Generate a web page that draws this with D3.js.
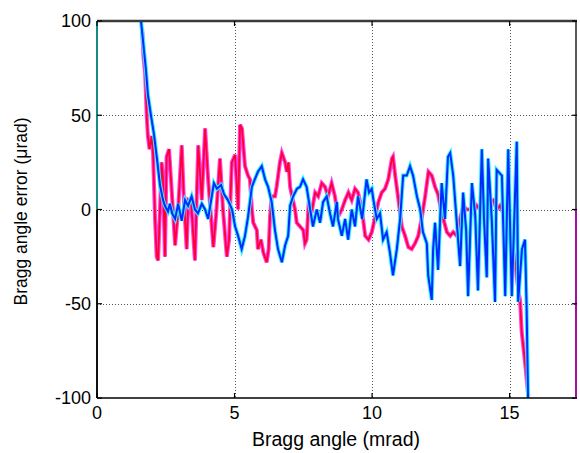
<!DOCTYPE html>
<html><head><meta charset="utf-8">
<script src="https://cdn.jsdelivr.net/npm/d3@7"></script>
<style>body{margin:0;background:#fff}svg{display:block}text{font-family:"Liberation Sans",Arial,sans-serif;fill:#000}</style>
</head><body><svg id="c" width="580" height="453"></svg>
<script>
const xTicks = [0, 5, 10, 15];
const yTicks = [-100, -50, 0, 50, 100];
const xLabel = "Bragg angle (mrad)";
const yLabel = "Bragg angle error (\u03bcrad)";

const blueX = [1.60,1.67,1.78,1.85,1.96,2.07,2.18,2.29,2.40,2.47,2.58,2.65,2.73,2.84,2.95,3.08,3.20,3.31,3.44,3.56,3.67,3.81,3.93,4.04,4.15,4.25,4.36,4.51,4.62,4.76,4.91,5.02,5.13,5.26,5.38,5.49,5.63,5.71,5.85,5.99,6.11,6.22,6.35,6.47,6.58,6.72,6.84,6.95,7.02,7.13,7.27,7.38,7.49,7.62,7.75,7.85,7.99,8.11,8.22,8.35,8.47,8.58,8.72,8.76,8.90,9.02,9.13,9.26,9.38,9.49,9.64,9.80,9.89,9.99,10.05,10.17,10.29,10.40,10.53,10.65,10.76,10.90,11.02,11.13,11.26,11.38,11.49,11.63,11.75,11.85,11.99,12.04,12.17,12.22,12.29,12.40,12.53,12.65,12.76,12.84,12.95,13.08,13.20,13.31,13.42,13.49,13.63,13.75,13.85,13.99,14.07,14.17,14.22,14.35,14.47,14.53,14.72,14.84,14.95,15.08,15.26,15.31,15.45,15.56,15.62,15.67];
const blueY = [100,90,74,61,50,40,27,13,5,2,-1,3,-2,-5,3,-6,5,2,7,0,-2,3,0,-5,5,14,11,13,8,5,0,-9,-14,-21,-14,-4,12,15,20,23,16,12,4,-11,-21,-28,-19,-14,2,7,11,12,16,12,0,-9,0,-7,4,7,-2,-9,4,-5,-14,-5,-16,0,-9,7,-5,16,9,11,5,-5,-2,-16,-12,-23,-35,-21,-5,18,18,23,18,7,0,-12,-18,-35,-48,-21,-7,-32,14,-5,28,30,18,-7,-30,9,-11,-46,14,-3,-43,32,-5,-36,27,-5,-49,21,18,-46,32,-46,36,-49,-21,-16,-53,-100];

const redX = [1.64,1.69,1.75,1.81,1.85,1.91,1.99,2.04,2.11,2.17,2.22,2.29,2.35,2.40,2.47,2.53,2.62,2.72,2.84,2.95,3.08,3.16,3.26,3.32,3.42,3.56,3.68,3.81,3.93,4.04,4.23,4.33,4.47,4.58,4.72,4.80,4.90,5.02,5.13,5.20,5.27,5.38,5.49,5.56,5.63,5.68,5.81,5.85,5.96,6.05,6.17,6.24,6.29,6.35,6.47,6.53,6.65,6.72,6.84,6.90,6.96,7.02,7.09,7.20,7.26,7.38,7.50,7.56,7.62,7.69,7.82,7.93,8.04,8.17,8.29,8.40,8.53,8.65,8.76,8.90,9.02,9.14,9.26,9.38,9.49,9.63,9.75,9.87,9.99,10.11,10.23,10.35,10.47,10.59,10.72,10.76,10.84,10.96,11.08,11.20,11.32,11.44,11.56,11.68,11.81,11.93,12.05,12.17,12.29,12.40,12.53,12.59,12.72,12.84,12.95,13.08,13.20,13.32,13.44,13.56,13.68,13.81,13.93,14.05,14.17,14.29,14.41,14.53,14.65,14.77,14.90,15.02,15.08,15.20,15.32,15.38,15.44,15.56,15.68];
const redY = [96,81,72,49,39,32,39,29,-5,-25,-27,0,25,16,-25,28,32,9,-19,0,34,5,-21,5,4,-27,34,5,43,16,-20,-3,27,0,-25,-16,25,29,0,45,43,23,18,16,0,-7,-11,-21,-16,-23,-28,-21,-4,7,7,12,25,30,25,20,25,12,7,0,-7,-9,-11,-18,-16,2,0,9,7,14,12,7,14,7,-4,0,5,9,5,11,9,0,-14,-16,-12,-4,4,9,11,16,27,28,18,5,-9,-14,-20,-21,-18,-14,-4,7,20,18,12,8,-2,-5,-12,-14,-12,-14,-5,2,0,0,-2,2,0,-4,-7,4,5,0,2,-2,-7,-11,-18,-28,-43,-48,-65,-81,-99];

const L = 97, R = 577, T = 21, B = 398;
const svg = d3.select("#c");
const x = d3.scaleLinear().domain([0, 17.45]).range([L, R]);
const y = d3.scaleLinear().domain([-100, 100]).range([B, T]);

// grid
const grid = svg.append("g").attr("stroke", "#555").attr("stroke-width", 1).attr("stroke-dasharray", "1,2");
grid.selectAll("line.v").data(xTicks.filter(d => d > 0)).join("line")
  .attr("x1", d => Math.round(x(d)) + 0.5).attr("x2", d => Math.round(x(d)) + 0.5).attr("y1", T).attr("y2", B);
grid.selectAll("line.h").data(yTicks.filter(d => d > -100 && d < 100)).join("line")
  .attr("y1", d => Math.round(y(d)) + 0.5).attr("y2", d => Math.round(y(d)) + 0.5).attr("x1", L).attr("x2", R);

svg.append("clipPath").attr("id", "clp").append("rect").attr("x", L).attr("y", T).attr("width", R - L).attr("height", B - T);

const redPts = redX.map((v, i) => [v, redY[i]]);
const bluePts = blueX.map((v, i) => [v, blueY[i]]);
const line = d3.line().x(d => x(d[0])).y(d => y(d[1]));
const plot = svg.append("g").attr("clip-path", "url(#clp)").attr("fill", "none")
  .attr("stroke-linejoin", "miter").attr("stroke-linecap", "butt");

function draw(pts, col, w) {
  plot.append("path").attr("d", line(pts)).attr("stroke", col).attr("stroke-width", w);
}
draw(redPts, "#ff40e8", 4);
draw(redPts, "#ff0030", 1.8);
draw(bluePts, "#30f0ff", 4);
draw(bluePts, "#0028ff", 2);

// axes frame
svg.append("line").attr("x1", L).attr("x2", R).attr("y1", T).attr("y2", T).attr("stroke", "#3a3a3a").attr("stroke-width", 2.5);
svg.append("line").attr("x1", L).attr("x2", R).attr("y1", B).attr("y2", B).attr("stroke", "#000").attr("stroke-width", 1.5);
svg.append("line").attr("x1", L).attr("x2", L).attr("y1", T).attr("y2", y(0)).attr("stroke", "#168a8a").attr("stroke-width", 2);
svg.append("line").attr("x1", L).attr("x2", L).attr("y1", y(0)).attr("y2", B).attr("stroke", "#111").attr("stroke-width", 2);
svg.append("line").attr("x1", R - 1).attr("x2", R - 1).attr("y1", T).attr("y2", y(0)).attr("stroke", "#222").attr("stroke-width", 1.5);
svg.append("line").attr("x1", R - 1).attr("x2", R - 1).attr("y1", y(0)).attr("y2", B).attr("stroke", "#a010a8").attr("stroke-width", 2);

// ticks
const tk = svg.append("g").attr("stroke", "#000").attr("stroke-width", 1.2);
yTicks.forEach(d => {
  tk.append("line").attr("x1", L).attr("x2", L + 5).attr("y1", y(d)).attr("y2", y(d));
  tk.append("line").attr("x1", R - 5).attr("x2", R).attr("y1", y(d)).attr("y2", y(d));
});
xTicks.forEach(d => {
  tk.append("line").attr("x1", x(d)).attr("x2", x(d)).attr("y1", B).attr("y2", B - 5);
  tk.append("line").attr("x1", x(d)).attr("x2", x(d)).attr("y1", T).attr("y2", T + 5);
});

// tick labels
svg.append("g").selectAll("text").data(yTicks).join("text")
  .attr("x", L - 6).attr("y", d => y(d)).attr("dy", "0.35em").attr("text-anchor", "end")
  .attr("font-size", 18).text(d => d);
svg.append("g").selectAll("text").data(xTicks).join("text")
  .attr("x", d => x(d)).attr("y", B + 21).attr("text-anchor", "middle")
  .attr("font-size", 18).text(d => d);

svg.append("text").attr("x", 336).attr("y", 446).attr("text-anchor", "middle").attr("font-size", 19.5).text(xLabel);
svg.append("text").attr("transform", `translate(27,${(T + B) / 2 + 2}) rotate(-90)`).attr("text-anchor", "middle")
  .attr("font-size", 17.5).text(yLabel);
</script></body></html>
